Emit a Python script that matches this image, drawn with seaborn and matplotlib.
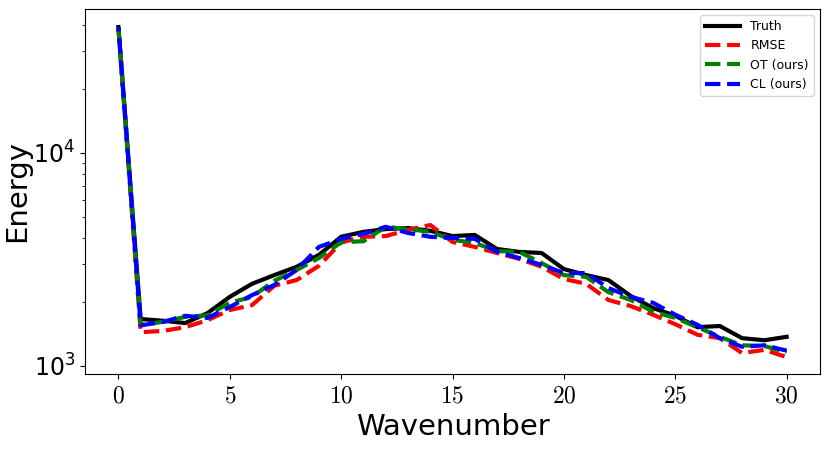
import numpy as np
import pandas as pd
import matplotlib
matplotlib.use("Agg")
import matplotlib.pyplot as plt
import seaborn as sns

# energy spectrum values
wavenumber = list(range(31))
truth = [39000, 1660, 1630, 1590, 1770, 2110, 2430, 2670, 2920, 3320, 4040,
         4260, 4390, 4440, 4310, 4070, 4120, 3540, 3430, 3390, 2850,
         2670, 2530, 2130, 1870, 1720, 1520, 1540, 1350, 1320, 1370]
rmse = [39000, 1440, 1460, 1520, 1640, 1830, 1930, 2380, 2530, 2950, 3800,
        4040, 4070, 4350, 4590, 3820, 3620, 3390, 3180, 2920, 2560,
        2430, 2040, 1910, 1740, 1570, 1400, 1350, 1150, 1190, 1100]
ot = [39000, 1560, 1610, 1700, 1730, 1980, 2110, 2510, 2820, 3210, 3810,
      3850, 4500, 4390, 4260, 3910, 3780, 3460, 3430, 3040, 2670,
      2620, 2220, 2040, 1800, 1680, 1520, 1370, 1250, 1240, 1160]
cl = [39000, 1550, 1610, 1720, 1680, 1890, 2150, 2400, 2820, 3620, 3950,
      4170, 4500, 4210, 4040, 3990, 3950, 3430, 3210, 2980, 2730,
      2730, 2320, 2110, 1980, 1740, 1560, 1350, 1230, 1250, 1180]

labels = ["Truth", "RMSE", "OT (ours)", "CL (ours)"]
colors = ["black", "red", "green", "blue"]

df = pd.concat([
    pd.DataFrame({"Wavenumber": wavenumber, "Energy": vals, "Model": name})
    for name, vals in zip(labels, [truth, rmse, ot, cl])
])

# plain matplotlib look, like the original
plt.rcParams["mathtext.fontset"] = "cm"

fig = plt.figure(figsize=(8.3, 4.5), dpi=100)
ax = fig.add_axes([0.1024, 0.169, 0.8856, 0.811])

sns.lineplot(data=df, x="Wavenumber", y="Energy", hue="Model", style="Model",
             hue_order=labels, style_order=labels,
             palette=dict(zip(labels, colors)),
             dashes={"Truth": "", "RMSE": (3.7, 1.6), "OT (ours)": (3.7, 1.6),
                     "CL (ours)": (3.7, 1.6)},
             linewidth=3, ax=ax)

# shift the blue dashes so the green shows through the gaps
ax.lines[3].set_linestyle((2.6, (3.7, 1.6)))

ax.set_yscale("log")
ax.set_ylim(917, 47400)
ax.set_xlim(-1.5, 31.5)
ax.set_xticks([0, 5, 10, 15, 20, 25, 30])
ax.set_xticklabels([f"${t}$" for t in [0, 5, 10, 15, 20, 25, 30]])
ax.tick_params(axis="both", which="major", labelsize=17)
ax.set_xlabel("Wavenumber", fontsize=21)
ax.set_ylabel("Energy", fontsize=21, labelpad=2)

ax.legend(loc="upper right", fontsize=9, handlelength=2.8)

fig.savefig("out.png", dpi=100)
